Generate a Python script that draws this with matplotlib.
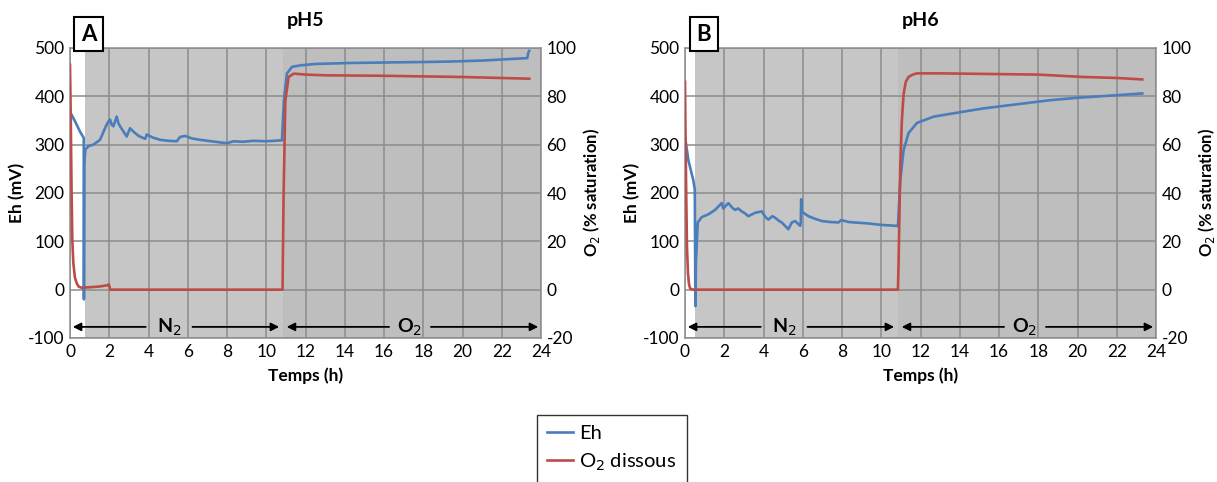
import matplotlib.pyplot as plt
from matplotlib.lines import Line2D

plt.rcParams['font.family'] = ['Lato', 'DejaVu Sans']
plt.rcParams['axes.unicode_minus'] = False

# --- data ---
# panel A (pH5)
tA_eh = [0, 0.26, 0.51, 0.70, 0.71, 0.73, 0.78, 0.94, 1.19, 1.53, 1.85, 1.96, 2.04, 2.13, 2.21, 2.38,
         2.46, 2.55, 2.89, 3.06, 3.23, 3.5, 3.83, 3.91, 4.2, 4.59, 5.0, 5.44, 5.61, 5.87, 6.2, 6.63,
         7.2, 7.99, 8.33, 8.8, 9.35, 10.0, 10.8, 10.85, 10.9, 11.05, 11.31, 11.73, 12.5, 14.3, 16,
         18, 19.4, 21, 22.8, 23.3, 23.35, 23.4]
ehA = [368, 348, 327, 314, -20, 260, 290, 297, 300, 310, 340, 348, 352, 341, 338, 358,
       345, 338, 317, 334, 327, 318, 312, 321, 315, 310, 308, 307, 316, 318, 313, 310,
       307, 303, 307, 306, 308, 307, 309, 350, 392, 447, 461, 464, 467, 469, 470,
       471, 472, 474, 478, 479, 490, 494]
tA_o2 = [0, 0.04, 0.08, 0.12, 0.17, 0.25, 0.35, 0.45, 0.6, 1.0, 1.5, 1.9, 1.98, 2.05,
         10.83, 10.88, 10.97, 11.14, 11.4, 12.0, 13, 16, 20, 23.4]
o2A = [93, 70, 40, 20, 11, 5, 2.5, 1.2, 0.8, 1.0, 1.3, 1.8, 2.2, 0,
       0, 37, 78, 88, 89.4, 89, 88.7, 88.5, 88.0, 87.3]

# panel B (pH6)
tB_eh = [0, 0.17, 0.42, 0.5, 0.53, 0.56, 0.65, 0.85, 1.2, 1.53, 1.87, 1.95, 2.04, 2.21, 2.4, 2.55,
         2.7, 2.89, 3.05, 3.23, 3.57, 3.91, 4.1, 4.25, 4.45, 4.59, 4.8, 4.93, 5.1, 5.27, 5.44,
         5.61, 5.87, 5.9, 5.92, 5.96, 6.04, 6.29, 6.6, 6.97, 7.4, 7.82, 7.96, 8.33, 9.35, 10.0,
         10.8, 10.85, 10.97, 11.14, 11.39, 11.82, 12.67, 14, 15.2, 17, 18.6, 20, 21.5, 23.3]
ehB = [317, 268, 227, 207, -34, 60, 139, 150, 156, 165, 179, 168, 172, 179, 170, 165,
       168, 162, 158, 152, 159, 162, 150, 145, 152, 149, 142, 139, 132, 125, 139,
       142, 132, 140, 187, 160, 159, 152, 147, 142, 140, 139, 144, 140, 137, 134,
       132, 131, 227, 289, 324, 345, 358, 367, 375, 384, 392, 397, 401, 406]
tB_o2 = [0, 0.03, 0.07, 0.1, 0.15, 0.2, 0.26, 0.4, 10.85, 10.88, 10.97, 11.05, 11.14,
         11.25, 11.39, 11.6, 11.82, 13, 16, 18, 20.3, 22, 23.3]
o2B = [86, 60, 35, 18, 7, 2.5, 0.5, 0, 0, 10, 51, 70, 81,
       86, 88, 89, 89.5, 89.5, 89.2, 89, 88, 87.6, 87]

panels = [
    ('A', 'pH5', tA_eh, ehA, tA_o2, o2A, 0.77),
    ('B', 'pH6', tB_eh, ehB, tB_o2, o2B, 0.51),
]
switch_t = 10.85
blue = '#4a7ebb'
red = '#be4b48'
grid_c = '#8c8c8c'

fig = plt.figure(figsize=(12.17, 4.82), dpi=100)
lefts = [70 / 1217, 685 / 1217]
w = 471 / 1217
b = 1 - 338 / 482
h = 290 / 482

for left, (tag, title, t_eh, eh, t_o2, o2, start_gas) in zip(lefts, panels):
    ax = fig.add_axes([left, b, w, h])
    ax.set_facecolor('white')
    ax.axvspan(start_gas, switch_t, color='#c6c6c6', zorder=0, lw=0)
    ax.axvspan(switch_t, 24, color='#bebebe', zorder=0, lw=0)
    ax.set_xlim(0, 24)
    ax.set_ylim(-100, 500)
    ax.set_xticks(range(0, 25, 2))
    ax.set_yticks(range(-100, 501, 100))
    ax.grid(True, color=grid_c, lw=1.1, zorder=1)
    ax.set_axisbelow(True)
    for s in ax.spines.values():
        s.set_color(grid_c)
        s.set_linewidth(1.1)
    ax.tick_params(length=0, labelsize=12.5, pad=4)
    ax.plot(t_eh, eh, color=blue, lw=1.9, zorder=3)
    ax.set_xlabel('Temps (h)', fontsize=12.5, fontweight='bold', labelpad=6)
    ax.set_ylabel('Eh (mV)', fontsize=12.5, fontweight='bold', labelpad=2)

    # gas phase arrows
    ya = -77
    arr = dict(arrowstyle='-|>', color='black', lw=1.3, mutation_scale=12)
    ax.annotate('', xy=(0, ya), xytext=(4.0, ya), arrowprops=arr, zorder=4)
    ax.annotate('', xy=(switch_t - 0.05, ya), xytext=(6.1, ya), arrowprops=arr, zorder=4)
    ax.text(5.05, ya, 'N$_2$', ha='center', va='center', fontsize=14, fontweight='bold', zorder=4)
    ax.annotate('', xy=(switch_t + 0.05, ya), xytext=(16.4, ya), arrowprops=arr, zorder=4)
    ax.annotate('', xy=(24, ya), xytext=(18.25, ya), arrowprops=arr, zorder=4, annotation_clip=False)
    ax.text(17.3, ya, 'O$_2$', ha='center', va='center', fontsize=14, fontweight='bold', zorder=4)

    ax2 = ax.twinx()
    ax2.set_ylim(-20, 100)
    ax2.set_yticks(range(-20, 101, 20))
    ax2.tick_params(length=0, labelsize=12.5, pad=4)
    for s in ax2.spines.values():
        s.set_visible(False)
    ax2.plot(t_o2, o2, color=red, lw=1.9, zorder=3)
    ax2.set_ylabel('O$_2$ (% saturation)', fontsize=12, fontweight='bold', labelpad=3)

    ax.set_title(title, fontsize=14, fontweight='bold', pad=16)
    ax.text(0.04, 1.012, tag, transform=ax.transAxes, ha='center', va='bottom',
            fontsize=16, fontweight='bold',
            bbox=dict(boxstyle='square,pad=0.3', fc='white', ec='black', lw=1.5))

handles = [Line2D([], [], color=blue, lw=1.9), Line2D([], [], color=red, lw=1.9)]
fig.legend(handles, ['Eh', 'O$_2$ dissous'], loc='upper left',
           bbox_to_anchor=(527 / 1217, 1 - 405 / 482), fontsize=14.5, frameon=True,
           fancybox=False, edgecolor='black', handlelength=1.3, handletextpad=0.3,
           borderpad=0.5, labelspacing=0.45)

fig.savefig('out.png', dpi=100)
